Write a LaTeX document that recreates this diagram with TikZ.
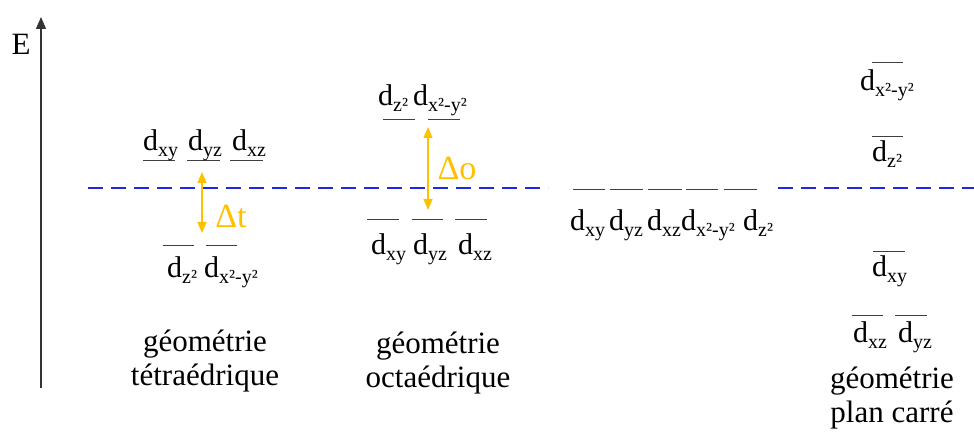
\documentclass[tikz,border=0pt]{standalone}
\usepackage{fontspec}
\setmainfont{Liberation Serif}
\usepackage{tikz}
\usetikzlibrary{arrows.meta}
\definecolor{SplitOrange}{RGB}{255,192,0}
\definecolor{BaryBlue}{RGB}{30,40,235}
\newcommand{\dorb}[1]{d\raisebox{-6pt}{\fontsize{20}{20}\selectfont #1}}

\begin{document}
\begin{tikzpicture}[x=1pt, y=-1pt,
    every node/.style={font=\fontsize{31}{34}\selectfont},
    orb/.style={anchor=base west, inner sep=0pt, font=\fontsize{30}{34}\selectfont},
    level/.style={line width=1pt, black!75},
    caption/.style={anchor=base, align=center, inner sep=0pt},
    gap/.style={SplitOrange, line width=1.3pt, {Triangle[length=11pt,width=9pt]}-{Triangle[length=11pt,width=9pt]}},
    gaplabel/.style={anchor=base, inner sep=0pt, text=SplitOrange, font=\fontsize{34}{34}\selectfont}]
  \useasboundingbox (0,0) rectangle (974,435);
  % energy axis
  \coordinate (Ebot) at (41,388);
  \coordinate (Etop) at (41,17);
  \draw[line width=1.3pt, black!80, -{Triangle[length=12pt,width=10pt]}] (Ebot) -- (Etop);
  \node[inner sep=0pt] (E) at (21,44) {E};
  % barycentre
  \draw[BaryBlue, line width=2pt, dash pattern=on 15pt off 8pt] (88,188) -- (548,188);
  \draw[BaryBlue, line width=2pt, dash pattern=on 15pt off 8pt] (778,188) -- (974,188);

  % tetrahedral
  \draw[level] (143,161) -- (175,161);
  \draw[level] (187,161) -- (220,161);
  \draw[level] (230,161) -- (263,161);
  \node[orb] (tXY) at (143,151) {\dorb{xy}};
  \node[orb] (tYZ) at (188,151) {\dorb{yz}};
  \node[orb] (tXZ) at (232,151) {\dorb{xz}};
  \draw[level] (163,246) -- (194,246);
  \draw[level] (206,246) -- (237,246);
  \node[orb] (tZ2) at (167,278) {\dorb{z²}};
  \node[orb] (tX2Y2) at (204,278) {\dorb{x²-y²}};
  \coordinate (tA) at (202,172);
  \coordinate (tB) at (202,233);
  \draw[gap] (tA) -- (tB);
  \node[gaplabel] (dt) at (231,228) {Δt};
  \node[caption] (capT) at (205,385) {géométrie\\tétraédrique};

  % octahedral
  \draw[level] (383,120) -- (415,120);
  \draw[level] (428,120) -- (460,120);
  \node[orb] (oZ2) at (378,106) {\dorb{z²}};
  \node[orb] (oX2Y2) at (413,106) {\dorb{x²-y²}};
  \draw[level] (367,220) -- (399,220);
  \draw[level] (412,220) -- (443,220);
  \draw[level] (455,220) -- (487,220);
  \node[orb] (oXY) at (371,255) {\dorb{xy}};
  \node[orb] (oYZ) at (413,255) {\dorb{yz}};
  \node[orb] (oXZ) at (458,255) {\dorb{xz}};
  \coordinate (oA) at (428,127);
  \coordinate (oB) at (428,210);
  \draw[gap] (oA) -- (oB);
  \node[gaplabel] (do) at (457,180) {Δo};
  \node[caption] (capO) at (438,387) {géométrie\\octaédrique};

  % free ion
  \draw[level] (573,190) -- (605,190);
  \draw[level] (610,190) -- (643,190);
  \draw[level] (648,190) -- (682,190);
  \draw[level] (686,190) -- (718,190);
  \draw[level] (724,190) -- (757,190);
  \node[orb] (fXY) at (570,231) {\dorb{xy}};
  \node[orb] (fYZ) at (609,231) {\dorb{yz}};
  \node[orb] (fXZ) at (647,231) {\dorb{xz}};
  \node[orb] (fX2Y2) at (681,231) {\dorb{x²-y²}};
  \node[orb] (fZ2) at (743,231) {\dorb{z²}};

  % square planar
  \draw[level] (872,63) -- (903,63);
  \node[orb] (sX2Y2) at (860,91) {\dorb{x²-y²}};
  \draw[level] (872,137) -- (903,137);
  \node[orb] (sZ2) at (872,162) {\dorb{z²}};
  \draw[level] (873,252) -- (905,252);
  \node[orb] (sXY) at (872,277) {\dorb{xy}};
  \draw[level] (852,316) -- (883,316);
  \draw[level] (895,316) -- (927,316);
  \node[orb] (sXZ) at (853,342) {\dorb{xz}};
  \node[orb] (sYZ) at (898,342) {\dorb{yz}};
  \node[caption] (capS) at (892,422) {géométrie\\plan carré};
\end{tikzpicture}
\end{document}
